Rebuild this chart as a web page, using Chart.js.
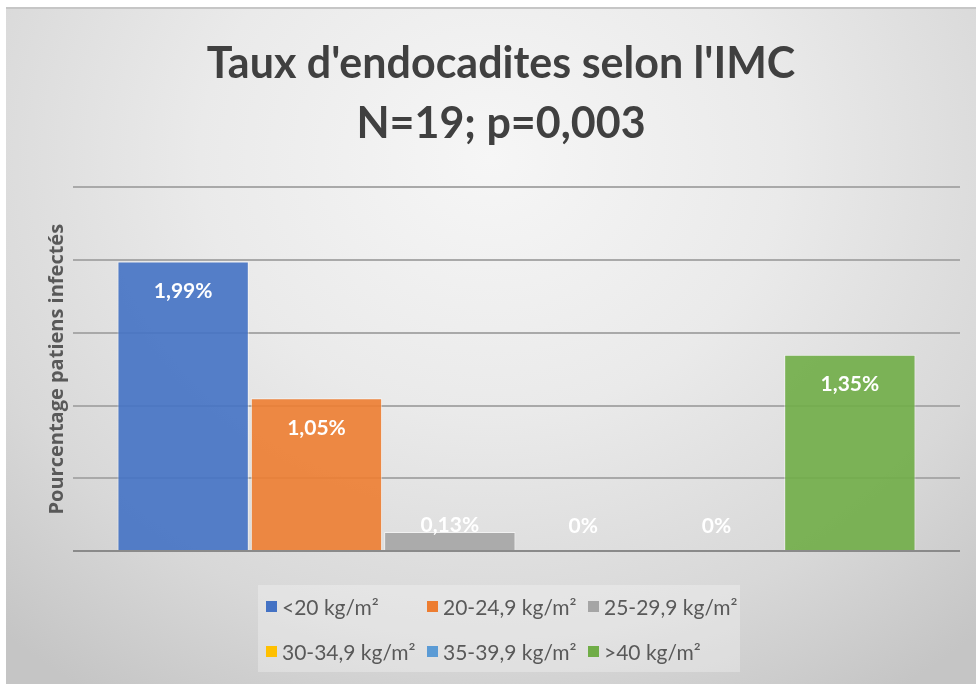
<!DOCTYPE html>
<html>
<head>
<meta charset="utf-8">
<script src="https://cdn.jsdelivr.net/npm/chart.js@4/dist/chart.umd.min.js"></script>
<style>
  html, body { margin: 0; padding: 0; background: #ffffff; }
  #wrap {
    position: absolute; left: 6px; top: 7px; width: 970px; height: 677px;
    background: radial-gradient(ellipse 75% 95% at 50% 22%, #f6f6f6 0%, #eaeaea 40%, #d8d8d8 75%, #c5c5c5 100%);
    border-top: 2px solid #c6c6c6;
    box-sizing: border-box;
  }
  canvas { display: block; }
</style>
</head>
<body>
<div id="wrap"><canvas id="c"></canvas></div>
<script>
// ---- data ----
const categories = ['IMC'];
const seriesLabels = ['<20 kg/m²', '20-24,9 kg/m²', '25-29,9 kg/m²', '30-34,9 kg/m²', '35-39,9 kg/m²', '>40 kg/m²'];
const seriesValues = [1.99, 1.05, 0.13, 0, 0, 1.35];
const seriesColors = ['#4472C4', '#ED7D31', '#A5A5A5', '#FFC000', '#5B9BD5', '#70AD47'];
const titleLines = ["Taux d'endocadites selon l'IMC", 'N=19; p=0,003'];
const yAxisTitle = 'Pourcentage patiens infectés';
const yTicks = { min: 0, max: 2.5, step: 0.5 };

const FONT = 'Lato, "Open Sans", sans-serif';

function alpha(hex, a) {
  const n = parseInt(hex.slice(1), 16);
  return `rgba(${(n >> 16) & 255},${(n >> 8) & 255},${n & 255},${a})`;
}

const datasets = seriesLabels.map((lab, i) => ({
  label: lab,
  data: [seriesValues[i]],
  backgroundColor: alpha(seriesColors[i], 0.9),
  borderColor: 'rgba(255,255,255,0.55)',
  borderWidth: 1,
  barPercentage: 0.985,
  categoryPercentage: 0.902
}));

const valueLabels = {
  id: 'valueLabels',
  afterDatasetsDraw(chart) {
    const ctx = chart.ctx;
    ctx.save();
    ctx.font = 'bold 21px ' + FONT;
    ctx.fillStyle = '#ffffff';
    ctx.textAlign = 'center';
    ctx.textBaseline = 'middle';
    chart.data.datasets.forEach((ds, i) => {
      const el = chart.getDatasetMeta(i).data[0];
      const v = ds.data[0];
      const txt = String(v).replace('.', ',') + '%';
      const y = Math.min(el.y + 30, el.base - 25);
      ctx.fillText(txt, el.x, y);
    });
    ctx.restore();
  }
};

const customLegend = {
  id: 'customLegend',
  afterDraw(chart) {
    const ctx = chart.ctx;
    const box = { x: 252, y: 576, w: 482, h: 87 };
    ctx.save();
    ctx.fillStyle = 'rgba(255,255,255,0.28)';
    ctx.fillRect(box.x, box.y, box.w, box.h);
    ctx.font = '21px ' + FONT;
    ctx.textBaseline = 'middle';
    ctx.textAlign = 'left';
    const perRow = 3, colW = 161, rowH = 45, startX = box.x + 8, startY = box.y + 22;
    seriesLabels.forEach((lab, i) => {
      const col = i % perRow, row = Math.floor(i / perRow);
      const x = startX + col * colW, y = startY + row * rowH;
      ctx.fillStyle = seriesColors[i];
      ctx.fillRect(x, y - 6, 11, 11);
      ctx.fillStyle = '#595959';
      ctx.fillText(lab, x + 16, y + 1);
    });
    ctx.restore();
  }
};

new Chart(document.getElementById('c'), {
  type: 'bar',
  data: { labels: categories, datasets },
  options: {
    responsive: true,
    maintainAspectRatio: false,
    animation: false,
    layout: { padding: { left: 36, right: 16, top: 0, bottom: 133 } },
    plugins: {
      legend: { display: false },
      tooltip: { enabled: false },
      title: {
        display: true,
        text: titleLines,
        color: '#404040',
        font: { family: FONT, size: 43, weight: 'bold', lineHeight: 1.4 },
        padding: { top: 25, bottom: 33 }
      }
    },
    scales: {
      x: { display: false },
      y: {
        min: yTicks.min, max: yTicks.max,
        ticks: { display: false, stepSize: yTicks.step },
        border: { display: false },
        grid: {
          drawTicks: false,
          lineWidth: 2,
          color: (c) => c.tick && c.tick.value === 0 ? '#8a8a8a' : '#a9a9a9'
        },
        title: {
          display: true,
          text: yAxisTitle,
          color: '#595959',
          font: { family: '"Open Sans", Lato, sans-serif', size: 20, weight: 'bold', lineHeight: 1.2 },
          padding: { top: 3, bottom: 0 }
        },
        afterFit(scale) { scale.width = 31; }
      }
    }
  },
  plugins: [valueLabels, customLegend]
});
</script>
</body>
</html>
